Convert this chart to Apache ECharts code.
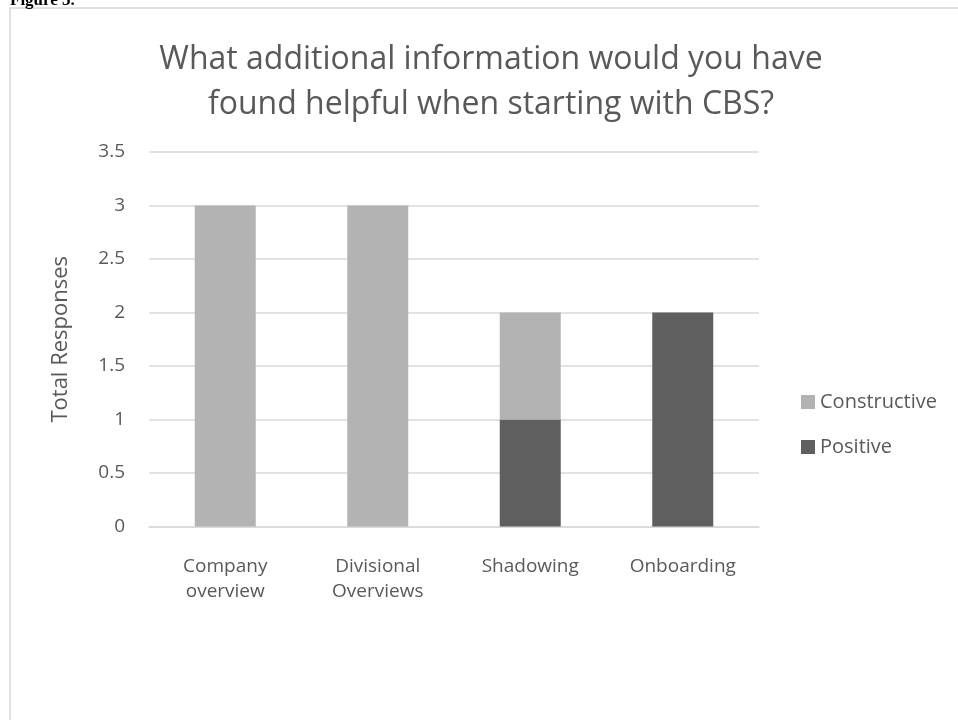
<!DOCTYPE html>
<html><head><meta charset="utf-8">
<script src="https://cdn.jsdelivr.net/npm/echarts@6/dist/echarts.min.js"></script>
<style>html,body{margin:0;padding:0;background:#fff}#c{width:958px;height:720px}</style>
</head><body><div id="c"></div>
<script>
const categories = ['Company\noverview', 'Divisional\nOverviews', 'Shadowing', 'Onboarding'];
const constructive = [3, 3, 1, 0];
const positive = [0, 0, 1, 2];
const yTicks = { min: 0, max: 3.5, interval: 0.5 };
const titleText = 'What additional information would you have\nfound helpful when starting with CBS?';

const font = 'Open Sans';
const chart = echarts.init(document.getElementById('c'));
chart.setOption({
  backgroundColor: '#fff',
  animation: false,
  graphic: [
    { type: 'rect', shape: { x: 10, y: 8, width: 960, height: 730 }, style: { fill: 'none', stroke: '#d9d9d9', lineWidth: 1.5 }, z: 0 },
    { type: 'text', x: 10, y: 9, style: { text: 'Figure 3.', font: 'bold 17px "Liberation Serif"', fill: '#000', verticalAlign: 'bottom' } }
  ],
  title: {
    text: titleText, left: 486, top: 32, textAlign: 'center',
    textStyle: { fontFamily: font, fontSize: 32, fontWeight: 'normal', color: '#595959', lineHeight: 45 }
  },
  legend: {
    orient: 'vertical', left: 801, top: 392, padding: 0, itemWidth: 14, itemHeight: 14, itemGap: 25,
    icon: 'rect', data: ['Constructive', 'Positive'],
    textStyle: { fontFamily: font, fontSize: 20, color: '#595959' }
  },
  grid: { left: 149, right: 199, top: 152, bottom: 193.5, containLabel: false },
  xAxis: {
    type: 'category', data: categories,
    axisLine: { lineStyle: { color: '#d9d9d9', width: 1.5 } },
    axisTick: { show: false },
    axisLabel: { fontFamily: font, fontSize: 19, color: '#595959', margin: 28, lineHeight: 25, interval: 0 }
  },
  yAxis: {
    type: 'value', min: yTicks.min, max: yTicks.max, interval: yTicks.interval,
    name: 'Total Responses', nameLocation: 'middle', nameGap: 77, nameRotate: 90,
    nameTextStyle: { fontFamily: font, fontSize: 22, color: '#595959' },
    axisLine: { show: false }, axisTick: { show: false },
    splitLine: { lineStyle: { color: '#d9d9d9', width: 1.5 } },
    axisLabel: { fontFamily: font, fontSize: 19, color: '#595959', margin: 24 }
  },
  series: [
    { name: 'Positive', type: 'bar', stack: 'total', data: positive, barWidth: '40%', itemStyle: { color: '#5f5f5f' } },
    { name: 'Constructive', type: 'bar', stack: 'total', data: constructive, barWidth: '40%', itemStyle: { color: '#b3b3b3' } }
  ]
});
</script></body></html>
